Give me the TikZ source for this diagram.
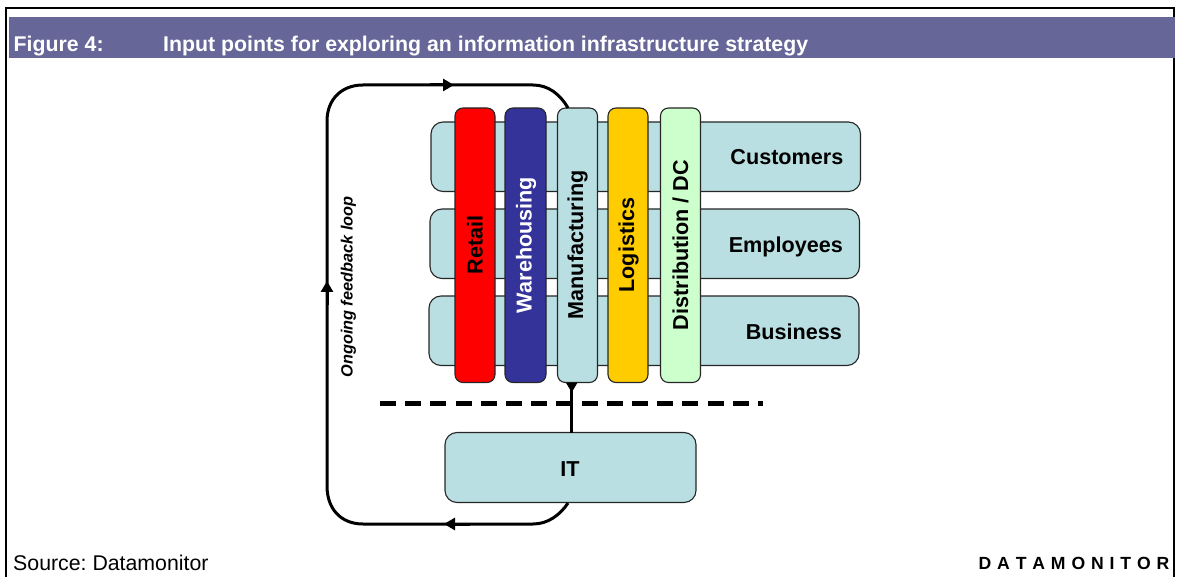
\documentclass[tikz,border=0pt]{standalone}
\usepackage{fontspec}
\setmainfont{Liberation Sans}
\usetikzlibrary{arrows.meta}
\definecolor{band}{HTML}{666699}
\definecolor{tealbox}{HTML}{B9DFE2}
\definecolor{navybar}{HTML}{333399}
\definecolor{amberbar}{HTML}{FFCC00}
\definecolor{greenbar}{HTML}{CCFFCC}
\tikzset{
  x=1pt,y=-1pt,
  boxbase/.style={draw=black!85,line width=1.1pt,inner sep=0pt,outer sep=0pt},
  rowbox/.style={boxbase,fill=tealbox,rounded corners=12pt,minimum height=69.5pt},
  itbox/.style={boxbase,fill=tealbox,rounded corners=12pt,minimum width=251pt,minimum height=70pt},
  barbox/.style={boxbase,rounded corners=8pt,minimum width=40pt,minimum height=274.5pt},
  lab/.style={font=\fontsize{21.6}{24}\selectfont\bfseries,inner sep=0pt},
  barlab/.style={lab,rotate=90},
  head/.style={text=white,font=\fontsize{21.3}{24}\selectfont\bfseries,inner sep=0pt,anchor=base west},
  loopline/.style={line width=3pt},
  tip/.style={-{Triangle[length=11pt,width=12pt]},line width=3pt}
}
\begin{document}
\frenchspacing
\begin{tikzpicture}
\useasboundingbox (0,0) rectangle (1178,577);
\draw[line width=2pt] (6,577) -- (6,8) -- (1174,8) -- (1174,577);
\fill[band] (9,17) rectangle (1175,58);
\node[head] (figlab) at (13.5,51.5) {Figure 4:};
\node[head] (figtitle) at (163,51.5) {Input points for exploring an information infrastructure strategy};
\node[rowbox,minimum width=429.5pt,anchor=north west] (cust) at (431,122) {};
\node[rowbox,minimum width=429.5pt,anchor=north west] (empl) at (430,209) {};
\node[rowbox,minimum width=430pt,anchor=north west] (busi) at (429,296) {};
\node[lab,anchor=base east] (custlab) at (843.5,165) {Customers};
\node[lab,anchor=base east] (empllab) at (843,253) {Employees};
\node[lab,anchor=base east] (busilab) at (842,339.5) {Business};
\node[barbox,fill=red,anchor=north west] (retail) at (455,108) {};
\node[barbox,fill=navybar,minimum width=41pt,anchor=north west] (ware) at (505,108) {};
\node[barbox,fill=tealbox,anchor=north west] (manu) at (557.5,108) {};
\node[barbox,fill=amberbar,anchor=north west] (logi) at (608,108) {};
\node[barbox,fill=greenbar,anchor=north west] (dist) at (660.5,108) {};
\node[barlab] (retaillab) at (475,245) {Retail};
\node[barlab,text=white] (warelab) at (526,245) {Warehousing};
\node[barlab] (manulab) at (577.5,245) {Manufacturing};
\node[barlab] (logilab) at (628.5,245) {Logistics};
\node[barlab] (distlab) at (680.5,245) {Distribution / DC};
\node[itbox,anchor=north west] (it) at (445,432.5) {};
\node[lab,anchor=base] (itlab) at (570,476) {IT};
\node[lab,rotate=90,font=\fontsize{16.3}{18}\selectfont\bfseries\itshape] (fb) at (348.5,287) {Ongoing feedback loop};
\node[anchor=base west,font=\fontsize{21.3}{24}\selectfont,inner sep=0pt] (src) at (13,570) {Source: Datamonitor};
\node[anchor=base east,font=\fontsize{17.6}{20}\selectfont\bfseries,inner sep=0pt] (dm) at (1169.5,569.5) {D\,\,A\,\,T\,\,A\,\,M\,\,O\,\,N\,\,I\,\,T\,\,O\,\,R};
\coordinate (dashL) at (380,403.5);
\coordinate (dashR) at (763,403.5);
\draw[line width=4.4pt,dash pattern=on 16pt off 9.2pt] (dashL) -- (dashR);
\coordinate (stemTop) at (571.7,382.5);
\draw[-{Triangle[reversed,length=10pt,width=11pt]},line width=3pt] (it.north -| stemTop) -- (stemTop);
\coordinate (mtop) at (568,108);
\coordinate (ibot) at (568,503);
\draw[loopline] (mtop) .. controls (560,94) and (548,85) .. (533,85) -- (363,85)
  .. controls (341,85) and (327,100) .. (327,121) -- (327,486)
  .. controls (327,509) and (341,524) .. (363,524) -- (533,524)
  .. controls (548,524) and (560,515) .. (ibot);
\coordinate (t1a) at (430,85); \coordinate (t1b) at (454,85);
\coordinate (t2a) at (327,305); \coordinate (t2b) at (327,281);
\coordinate (t3a) at (470,524); \coordinate (t3b) at (444,524);
\draw[tip] (t1a) -- (t1b);
\draw[tip] (t2a) -- (t2b);
\draw[tip] (t3a) -- (t3b);
\end{tikzpicture}
\end{document}
